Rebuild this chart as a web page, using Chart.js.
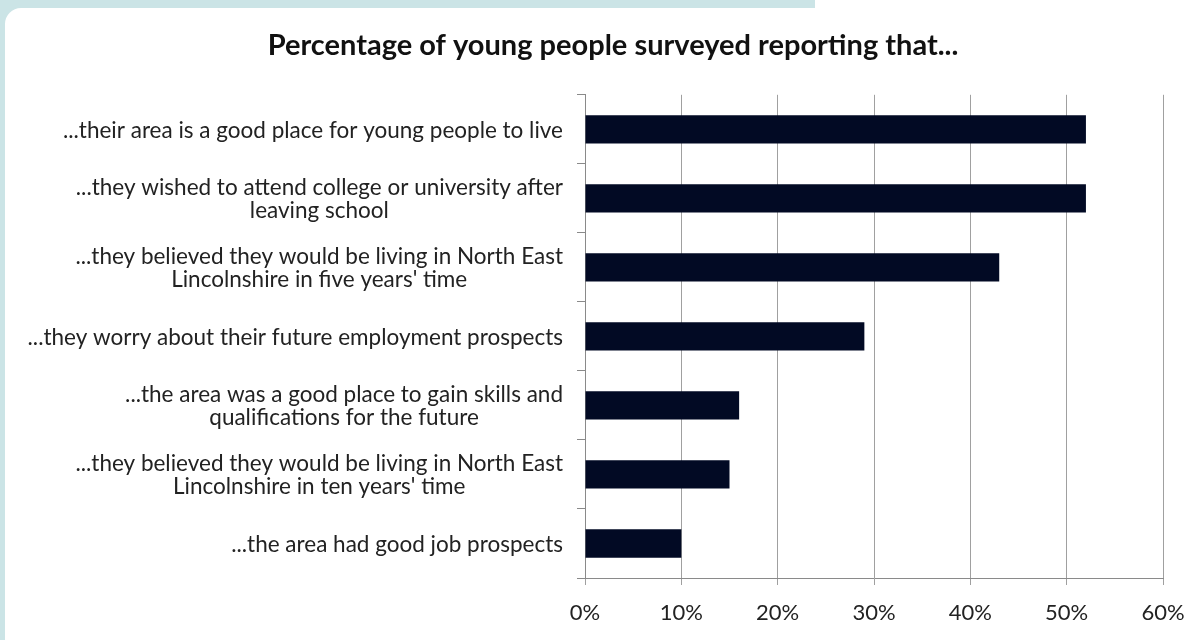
<!DOCTYPE html>
<html>
<head>
<meta charset="utf-8">
<script src="https://cdn.jsdelivr.net/npm/chart.js@4.4.1/dist/chart.umd.min.js"></script>
<style>
  html, body { margin: 0; padding: 0; background: #ffffff; }
  #wrap { position: relative; width: 1190px; height: 640px; overflow: hidden; }
  #tealTop { position: absolute; left: 0; top: 0; width: 815px; height: 22px; background: #cbe4e6; }
  #tealLeft { position: absolute; left: 0; top: 0; width: 22px; height: 640px; background: #cbe4e6; }
  #card { position: absolute; left: 5px; top: 8px; right: 0; bottom: 0; background: #fff; border-top-left-radius: 16px; }
  #chartBox { position: absolute; left: 0; top: 0; width: 1190px; height: 640px; }
</style>
</head>
<body>
<div id="wrap">
  <div id="tealTop"></div>
  <div id="tealLeft"></div>
  <div id="card"></div>
  <div id="chartBox"><canvas id="surveyChart"></canvas></div>
</div>
<script>
// categories (top to bottom) and values in percent
const categories = [
    '...their area is a good place for young people to live',
    ['...they wished to attend college or university after', 'leaving school'],
    ["...they believed they would be living in North East", "Lincolnshire in five years' time"],
    '...they worry about their future employment prospects',
    ['...the area was a good place to gain skills and', 'qualifications for the future'],
    ["...they believed they would be living in North East", "Lincolnshire in ten years' time"],
    '...the area had good job prospects'
];
const percentages = [52, 52, 43, 29, 16, 15, 10];
const xTicks = [0, 10, 20, 30, 40, 50, 60];

const fontFamily = 'Lato, "Open Sans", sans-serif';
const labelFont = '22.5px ' + fontFamily;

// draws the category labels: block right-aligned, lines centred within the block
const categoryLabels = {
    id: 'categoryLabels',
    afterDraw(chart) {
        const ctx = chart.ctx;
        const yScale = chart.scales.y;
        const right = chart.chartArea.left - 22;
        const lineH = 23.5;
        ctx.save();
        ctx.font = labelFont;
        ctx.fillStyle = '#222';
        ctx.textBaseline = 'middle';
        ctx.textAlign = 'center';
        categories.forEach((lab, i) => {
            const lines = Array.isArray(lab) ? lab : [lab];
            const w = Math.max(...lines.map(l => ctx.measureText(l).width));
            const cx = right - w / 2;
            const cy = yScale.getPixelForValue(i) + 1;
            const top = cy - (lines.length - 1) * lineH / 2;
            lines.forEach((l, j) => ctx.fillText(l, cx, top + j * lineH));
        });
        ctx.restore();
    }
};

const ctx = document.getElementById('surveyChart').getContext('2d');
new Chart(ctx, {
    type: 'bar',
    data: {
        labels: categories,
        datasets: [{
            label: 'Percentage',
            data: percentages,
            backgroundColor: '#020a24',
            borderWidth: 0,
            barPercentage: 0.41,
            categoryPercentage: 1.0
        }]
    },
    options: {
        indexAxis: 'y',
        responsive: true,
        maintainAspectRatio: false,
        animation: false,
        layout: { padding: { left: 63, right: 27, top: 0, bottom: 0 } },
        plugins: {
            legend: { display: false },
            tooltip: { enabled: false },
            title: {
                display: true,
                text: 'Percentage of young people surveyed reporting that...',
                color: '#111',
                font: { family: fontFamily, size: 29, weight: 'bold' },
                padding: { top: 28, bottom: 32 }
            }
        },
        scales: {
            x: {
                min: 0,
                max: 60,
                afterBuildTicks: (s) => { s.ticks = xTicks.map(v => ({ value: v })); },
                afterFit: (s) => { s.height = 62; s.paddingLeft = 0; s.paddingRight = 0; },
                ticks: {
                    color: '#222',
                    font: { family: fontFamily, size: 22 },
                    padding: 15,
                    callback: (v) => v + '%'
                },
                grid: { color: '#a0a0a0', lineWidth: 1, tickLength: 7 },
                border: { color: '#8a8a8a', width: 1 }
            },
            y: {
                afterFit: (s) => { s.width = 522; },
                ticks: { display: false },
                grid: { offset: true, drawOnChartArea: false, drawTicks: true, tickLength: 8, color: '#8a8a8a' },
                border: { color: '#8a8a8a', width: 1 }
            }
        }
    },
    plugins: [categoryLabels]
});
</script>
</body>
</html>
